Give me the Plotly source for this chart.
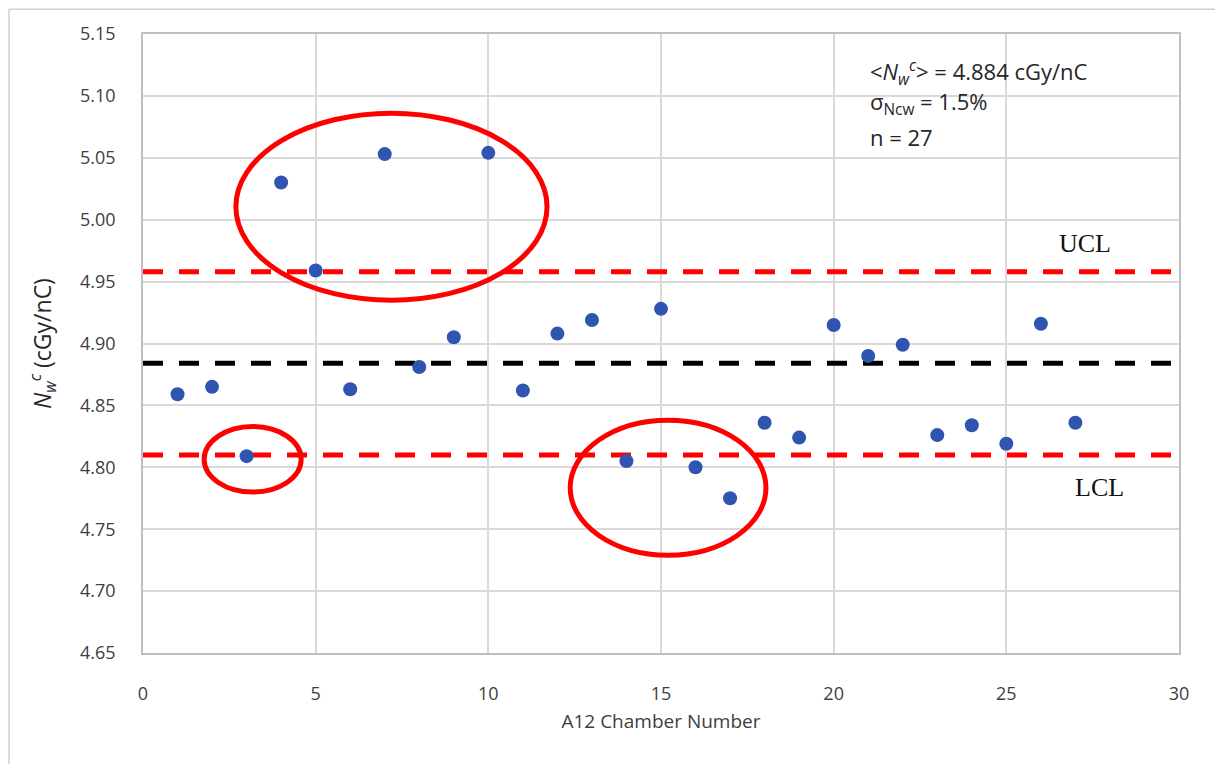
import plotly.graph_objects as go

chamber = list(range(1, 28))
ncw = [4.859, 4.865, 4.809, 5.030, 4.959, 4.863, 5.053, 4.881, 4.905, 5.054,
       4.862, 4.908, 4.919, 4.805, 4.928, 4.800, 4.775, 4.836, 4.824, 4.915,
       4.890, 4.899, 4.826, 4.834, 4.819, 4.916, 4.836]
mean_val = 4.884
ucl = 4.958
lcl = 4.810
x_ticks = [0, 5, 10, 15, 20, 25, 30]
y_ticks = [4.65, 4.70, 4.75, 4.80, 4.85, 4.90, 4.95, 5.00, 5.05, 5.10, 5.15]
# ellipse extents (x0, x1, y0, y1)
ellipses = [
    (2.69, 11.70, 4.935, 5.086),
    (1.77, 4.58, 4.780, 4.833),
    (12.37, 18.04, 4.729, 4.838),
]
stats_lines = [
    "&lt;<i>N</i><sub><i>w</i></sub><sup><i>c</i></sup>&gt; = 4.884 cGy/nC",
    "σ<sub>Ncw</sub> = 1.5%",
    "n = 27",
]

fig = go.Figure()
for val, col in [(ucl, "#FF0000"), (lcl, "#FF0000"), (mean_val, "#000000")]:
    fig.add_trace(go.Scatter(x=[0, 30], y=[val, val], mode="lines",
                             line=dict(color=col, width=5, dash="20px,16px"),
                             showlegend=False, hoverinfo="skip"))

fig.add_trace(go.Scatter(x=chamber, y=ncw, mode="markers",
                         marker=dict(color="#2F55B0", size=14), showlegend=False))

for (x0, x1, y0, y1) in ellipses:
    fig.add_shape(type="circle", xref="x", yref="y", x0=x0, x1=x1, y0=y0, y1=y1,
                  line=dict(color="#FF0000", width=5))

# outer frame
fig.add_shape(type="rect", xref="paper", yref="paper", x0=-0.1293, x1=1.0376, y0=-0.25, y1=1.040,
              line=dict(color="#D0D0D0", width=1.5))

for i, (txt, yp) in enumerate(zip(stats_lines, [0.9386, 0.8885, 0.8336])):
    fig.add_annotation(x=0.700, y=yp, xref="paper", yref="paper", xanchor="left", yanchor="middle",
                       align="left", showarrow=False, text=txt,
                       font=dict(family="Open Sans, Liberation Sans, sans-serif", size=22, color="#262626"))
fig.add_annotation(x=27.28, y=4.981, text="UCL", showarrow=False,
                   font=dict(family="Liberation Serif, serif", size=26, color="#111111"))
fig.add_annotation(x=27.71, y=4.784, text="LCL", showarrow=False,
                   font=dict(family="Liberation Serif, serif", size=26, color="#111111"))

axfont = dict(family="Open Sans, Liberation Sans, sans-serif", size=18, color="#404040")
fig.update_xaxes(range=[0, 30], tickvals=x_ticks, showgrid=True, gridcolor="#D9D9D9", gridwidth=1.5,
                 zeroline=False, showline=True, mirror=True, linecolor="#BFBFBF", linewidth=1.5,
                 tickfont=axfont, ticks="", ticklabelstandoff=24,
                 title=dict(text="A12 Chamber Number", font=dict(family="Open Sans, Liberation Sans, sans-serif", size=19, color="#404040"), standoff=10))
fig.update_yaxes(range=[4.65, 5.15], tickvals=y_ticks, tickformat=".2f", showgrid=True,
                 gridcolor="#D9D9D9", gridwidth=1.5, zeroline=False, showline=True, mirror=True,
                 linecolor="#BFBFBF", linewidth=1.5, tickfont=axfont, ticks="", ticklabelstandoff=22,
                 title=dict(text="<i>N</i><sub><i>w</i></sub><sup><i>c</i></sup> (cGy/nC)",
                            font=dict(family="Open Sans, Liberation Sans, sans-serif", size=23, color="#262626"),
                            standoff=22))

fig.update_layout(width=1223, height=764, margin=dict(l=135, r=52, t=26, b=119),
                  plot_bgcolor="white", paper_bgcolor="white")
fig.write_html("out.html")
